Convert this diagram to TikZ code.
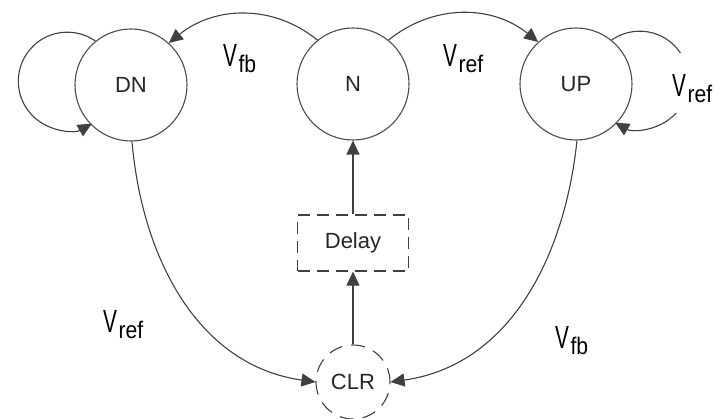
\documentclass[tikz,border=0pt]{standalone}
\usepackage{fontspec}
\setmainfont{Liberation Sans}
\usepackage{graphicx}
\usetikzlibrary{arrows.meta}

% voltage label: condensed V with a lowered subscript
\newcommand\volt[1]{{\fontsize{32}{32}\selectfont\scalebox{0.65}[1]{V}}\kern1.5pt\raisebox{-6pt}{\fontsize{24}{24}\selectfont\scalebox{0.88}[1]{#1}}}

\begin{document}
\begin{tikzpicture}[x=1pt,y=1pt,
  state/.style={circle,draw=black!70,line width=1.1pt,minimum size=112pt,inner sep=0pt,
    font=\fontsize{22}{22}\selectfont,text=black!85},
  delaybox/.style={rectangle,draw=black!75,line width=1.2pt,dash pattern=on 12pt off 7pt,
    minimum width=111pt,minimum height=56pt,inner sep=0pt,font=\fontsize{22}{22}\selectfont,text=black!85},
  clrstate/.style={circle,draw=black!75,line width=1.1pt,dash pattern=on 14pt off 9pt,
    minimum size=74pt,inner sep=0pt,font=\fontsize{22}{22}\selectfont,text=black!85},
  conn/.style={draw=black!75,line width=1.1pt,-{Triangle[length=14pt,width=13pt]}},
  vlab/.style={anchor=base west,inner sep=0pt}]

\useasboundingbox (0,0) rectangle (721,-419);

% states
\node[state] (DN) at (131,-85) {DN};
\node[state] (N)  at (353,-84) {N};
\node[state] (UP) at (576,-84) {UP};
\node[delaybox] (D) at (353,-243) {Delay};
\node[clrstate] (CLR) at (353,-382) {CLR};

% transitions from N
\draw[conn] (N.129) to[out=141,in=39] (DN.48);
\draw[conn] (N.51) to[out=39,in=141] (UP.132);

% self loops
\draw[conn] (DN.129) arc[start angle=55,end angle=300,radius=49pt];
\draw[conn] (UP.51) arc[start angle=125,end angle=-120,radius=49pt];

% transitions into CLR
\draw[conn] (DN.271) to[out=-85,in=172] (CLR.180);
\draw[conn] (UP.271) to[out=-96,in=8] (CLR.0);

% CLR -> Delay -> N
\draw[conn] (CLR.north) -- (D.south);
\draw[conn] (D.north) -- (N.south);

% transition labels
\node[vlab] (lfbtop)  at (223,-67) {\volt{fb}};
\node[vlab] (lreftop) at (443,-67) {\volt{ref}};
\node[vlab,fill=white,text height=44pt,text depth=16pt] (lrefup) at (672,-97) {\volt{ref}};
\node[vlab] (lrefdn)  at (103,-333) {\volt{ref}};
\node[vlab] (lfbup)   at (555,-349) {\volt{fb}};
\end{tikzpicture}
\end{document}
